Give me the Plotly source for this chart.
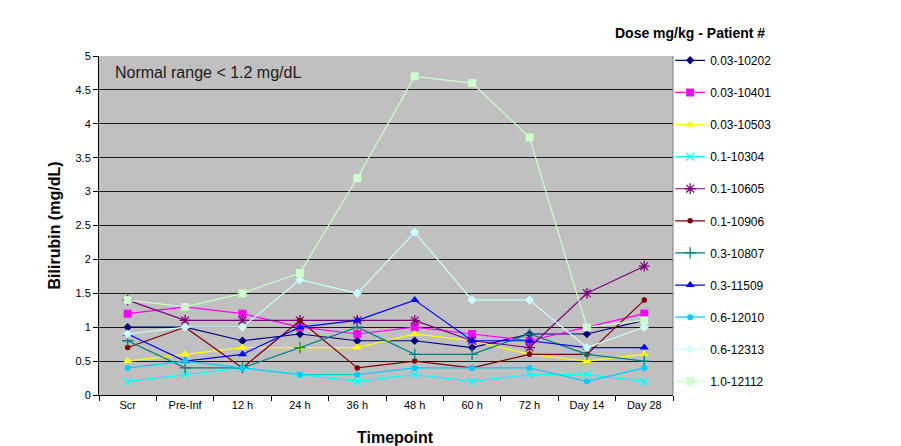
import plotly.graph_objects as go

timepoints = ["Scr", "Pre-Inf", "12 h", "24 h", "36 h", "48 h", "60 h", "72 h", "Day 14", "Day 28"]

names = ["0.03-10202", "0.03-10401", "0.03-10503", "0.1-10304", "0.1-10605", "0.1-10906",
         "0.3-10807", "0.3-11509", "0.6-12010", "0.6-12313", "1.0-12112"]

p10202 = [1.0, 1.0, 0.8, 0.9, 0.8, 0.8, 0.7, 0.9, 0.9, 1.1]
p10401 = [1.2, 1.3, 1.2, 1.0, 0.9, 1.0, 0.9, 0.8, 1.0, 1.2]
p10503 = [0.5, 0.6, 0.7, 0.7, 0.7, 0.9, 0.8, 0.6, 0.5, 0.6]
p10304 = [0.2, 0.3, 0.4, 0.3, 0.2, 0.3, 0.2, 0.3, 0.3, 0.2]
p10605 = [1.4, 1.1, 1.1, 1.1, 1.1, 1.1, 0.8, 0.7, 1.5, 1.9]
p10906 = [0.7, 1.0, 0.4, 1.1, 0.4, 0.5, 0.4, 0.6, 0.6, 1.4]
p10807 = [0.8, 0.4, 0.4, 0.7, 1.0, 0.6, 0.6, 0.9, 0.6, 0.5]
p11509 = [0.9, 0.5, 0.6, 1.0, 1.1, 1.4, 0.8, 0.8, 0.7, 0.7]
p12010 = [0.4, 0.5, 0.4, 0.3, 0.3, 0.4, 0.4, 0.4, 0.2, 0.4]
p12313 = [0.9, 1.0, 1.0, 1.7, 1.5, 2.4, 1.4, 1.4, 0.7, 1.0]
p12112 = [1.4, 1.3, 1.5, 1.8, 3.2, 4.7, 4.6, 3.8, 1.0, 1.1]

series_values = [p10202, p10401, p10503, p10304, p10605, p10906,
                 p10807, p11509, p12010, p12313, p12112]

colors = ["#000080", "#FF00FF", "#FFFF00", "#00FFFF", "#800080", "#800000",
          "#008080", "#0000FF", "#00CCFF", "#CCFFFF", "#CCFFCC"]
symbols = ["diamond", "square", "triangle-up", "x-thin", "asterisk", "circle",
           "cross-thin", "triangle-up", "circle", "diamond", "square"]
sizes = [6.5, 8, 8, 8, 9, 5.5, 8, 8, 6, 7, 8]

fig = go.Figure()
for i, (nm, vals) in enumerate(zip(names, series_values)):
    thin = symbols[i] in ("x-thin", "asterisk", "cross-thin")
    fig.add_trace(go.Scatter(
        x=timepoints, y=vals, name=nm, mode="lines+markers",
        legendgroup=nm,
        line=dict(color=colors[i], width=1.2),
        marker=dict(symbol=symbols[i], size=sizes[i], color=colors[i],
                    line=dict(color=colors[i], width=1.3 if thin else 0)),
    ))

fig.update_layout(
    width=901, height=446,
    margin=dict(l=99, r=228, t=56, b=51),
    paper_bgcolor="white", plot_bgcolor="#C0C0C0",
    font=dict(family="Liberation Sans, Arial, sans-serif", color="black", size=11),
    showlegend=True,
    legend=dict(x=0.995, y=1.03, xanchor="left", yanchor="top",
                font=dict(size=12), tracegroupgap=13.1, bgcolor="rgba(0,0,0,0)",
                itemwidth=30, maxheight=1.0),
    xaxis=dict(type="category", range=[-0.5, 9.5], showgrid=False,
               showline=True, linecolor="black", linewidth=1,
               ticks="outside", ticklen=5, tickcolor="black", tickson="boundaries",
               tickfont=dict(size=11)),
    yaxis=dict(range=[0, 5], dtick=0.5, showgrid=True, gridcolor="#1a1a1a", gridwidth=1,
               showline=True, linecolor="black", linewidth=1, zeroline=False,
               ticks="outside", ticklen=5, tickcolor="black", tickfont=dict(size=11)),
    shapes=[dict(type="line", xref="paper", yref="paper", x0=1, x1=1, y0=0, y1=1,
                 line=dict(color="#808080", width=1))],
    annotations=[
        dict(text="Normal range < 1.2 mg/dL", xref="paper", yref="paper",
             x=0.0244, y=0.95, xanchor="left", yanchor="middle", showarrow=False,
             font=dict(size=16, color="#1a1a1a")),
        dict(text="<b>Bilirubin (mg/dL)</b>", xref="paper", yref="paper",
             x=-0.0767, y=0.5, xanchor="center", yanchor="middle", textangle=-90,
             showarrow=False, font=dict(size=16)),
        dict(text="<b>Timepoint</b>", xref="paper", yref="paper",
             x=0.5157, y=-0.1268, xanchor="center", yanchor="middle",
             showarrow=False, font=dict(size=16)),
        dict(text="<b>Dose mg/kg - Patient #</b>", xref="paper", yref="paper",
             x=1.1638, y=1.0678, xanchor="right", yanchor="middle",
             showarrow=False, font=dict(size=14)),
    ],
)

fig.write_html("out.html")
